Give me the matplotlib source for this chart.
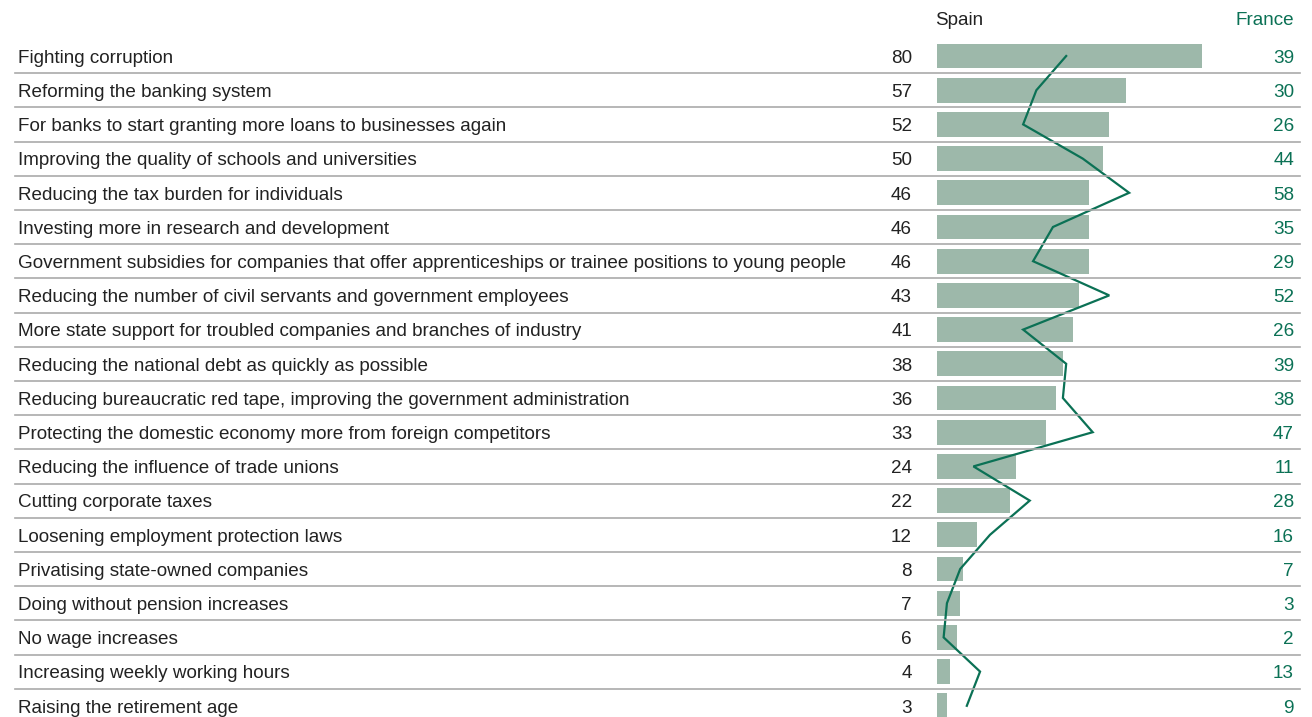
import matplotlib
matplotlib.use("Agg")
import matplotlib.pyplot as plt

plt.rcParams['font.family'] = ['Liberation Sans', 'DejaVu Sans']

labels = [
    "Fighting corruption",
    "Reforming the banking system",
    "For banks to start granting more loans to businesses again",
    "Improving the quality of schools and universities",
    "Reducing the tax burden for individuals",
    "Investing more in research and development",
    "Government subsidies for companies that offer apprenticeships or trainee positions to young people",
    "Reducing the number of civil servants and government employees",
    "More state support for troubled companies and branches of industry",
    "Reducing the national debt as quickly as possible",
    "Reducing bureaucratic red tape, improving the government administration",
    "Protecting the domestic economy more from foreign competitors",
    "Reducing the influence of trade unions",
    "Cutting corporate taxes",
    "Loosening employment protection laws",
    "Privatising state-owned companies",
    "Doing without pension increases",
    "No wage increases",
    "Increasing weekly working hours",
    "Raising the retirement age",
]
spain = [80, 57, 52, 50, 46, 46, 46, 43, 41, 38, 36, 33, 24, 22, 12, 8, 7, 6, 4, 3]
france = [39, 30, 26, 44, 58, 35, 29, 52, 26, 39, 38, 47, 11, 28, 16, 7, 3, 2, 13, 9]

bar_col = '#9db8aa'
green = '#0b7155'
txt = '#222222'
fs = 13.6

W, H = 1312, 717
x0 = 937.0      # pixel where bars start
sc = 3.3125     # pixels per unit
y0, dy = 56.0, 34.2

def px(x):
    return (x - x0) / sc

fig = plt.figure(figsize=(W / 100, H / 100), dpi=100)
ax = fig.add_axes([0, 0, 1, 1])
ax.set_xlim(px(0), px(W))
ax.set_ylim((H - y0) / dy, -y0 / dy)
ax.axis('off')

rows = list(range(len(labels)))
ax.barh(rows, spain, height=0.73, left=0, color=bar_col)
ax.plot(france, rows, color=green, lw=1.6, solid_joinstyle='miter')

for i in rows:
    yy = i + 0.07
    ax.text(px(18), yy, labels[i], ha='left', va='center', fontsize=fs, color=txt)
    ax.text(px(912), yy, str(spain[i]), ha='right', va='center', fontsize=fs, color=txt)
    ax.text(px(1294), yy, str(france[i]), ha='right', va='center', fontsize=fs, color=green)
    if i < len(labels) - 1:
        ax.plot([px(15), px(1300)], [i + 0.5, i + 0.5], color='#aaaaaa', lw=1.2)

ax.text(px(935), -36 / dy, "Spain", ha='left', va='center', fontsize=fs, color=txt)
ax.text(px(1294), -36 / dy, "France", ha='right', va='center', fontsize=fs, color=green)

fig.savefig('out.png', dpi=100)
